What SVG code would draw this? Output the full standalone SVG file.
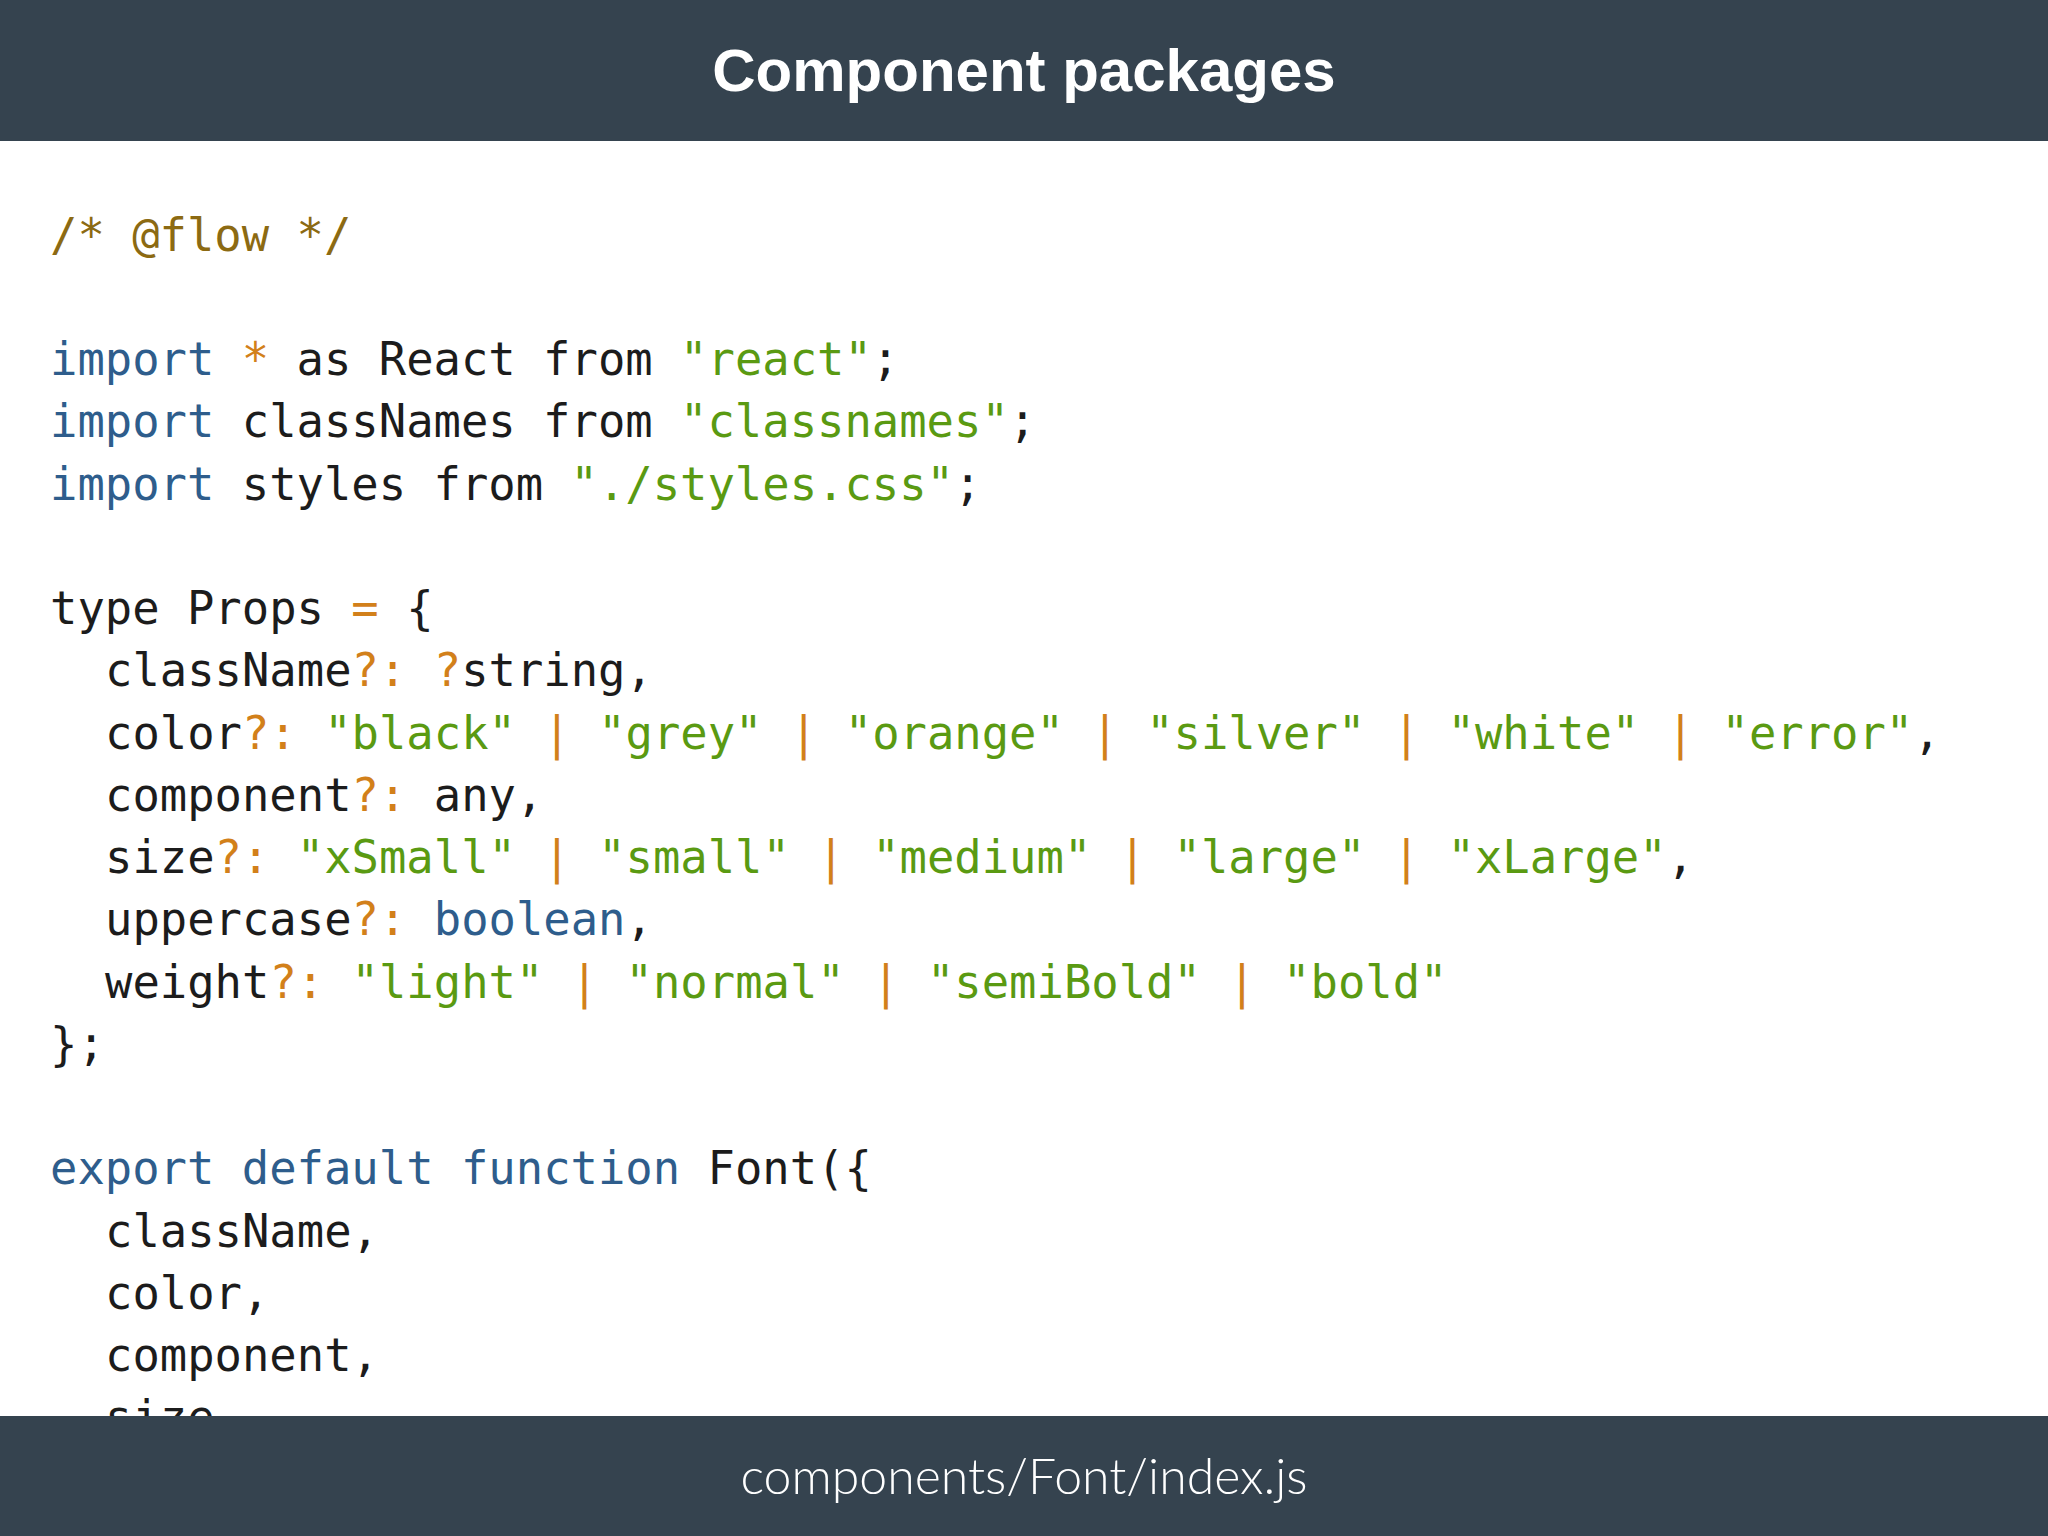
<svg xmlns="http://www.w3.org/2000/svg" width="2048" height="1536" viewBox="0 0 2048 1536">
<style>
.code{font-family:"DejaVu Sans Mono","Liberation Mono",monospace;font-size:45.5px;fill:#1c1c1c;white-space:pre}
.k{fill:#2e5d8c}.s{fill:#5a9a12}.o{fill:#d2801a}.c{fill:#8c6a12}
.bar{fill:#35434f}
</style>
<rect width="2048" height="1536" fill="#ffffff"/>
<g id="code" class="code" xml:space="preserve">
<text x="50" y="251"><tspan class="c">/* @flow */</tspan></text>
<text x="50" y="375"><tspan class="k">import</tspan> <tspan class="o">*</tspan> as React from <tspan class="s">"react"</tspan>;</text>
<text x="50" y="437"><tspan class="k">import</tspan> classNames from <tspan class="s">"classnames"</tspan>;</text>
<text x="50" y="500"><tspan class="k">import</tspan> styles from <tspan class="s">"./styles.css"</tspan>;</text>
<text x="50" y="624">type Props <tspan class="o">=</tspan> {</text>
<text x="105" y="686">className<tspan class="o">?:</tspan> <tspan class="o">?</tspan>string,</text>
<text x="105" y="749">color<tspan class="o">?:</tspan> <tspan class="s">"black"</tspan> <tspan class="o">|</tspan> <tspan class="s">"grey"</tspan> <tspan class="o">|</tspan> <tspan class="s">"orange"</tspan> <tspan class="o">|</tspan> <tspan class="s">"silver"</tspan> <tspan class="o">|</tspan> <tspan class="s">"white"</tspan> <tspan class="o">|</tspan> <tspan class="s">"error"</tspan>,</text>
<text x="105" y="811">component<tspan class="o">?:</tspan> any,</text>
<text x="105" y="873">size<tspan class="o">?:</tspan> <tspan class="s">"xSmall"</tspan> <tspan class="o">|</tspan> <tspan class="s">"small"</tspan> <tspan class="o">|</tspan> <tspan class="s">"medium"</tspan> <tspan class="o">|</tspan> <tspan class="s">"large"</tspan> <tspan class="o">|</tspan> <tspan class="s">"xLarge"</tspan>,</text>
<text x="105" y="935">uppercase<tspan class="o">?:</tspan> <tspan class="k">boolean</tspan>,</text>
<text x="105" y="998">weight<tspan class="o">?:</tspan> <tspan class="s">"light"</tspan> <tspan class="o">|</tspan> <tspan class="s">"normal"</tspan> <tspan class="o">|</tspan> <tspan class="s">"semiBold"</tspan> <tspan class="o">|</tspan> <tspan class="s">"bold"</tspan></text>
<text x="50" y="1060">};</text>
<text x="50" y="1184"><tspan class="k">export</tspan> <tspan class="k">default</tspan> <tspan class="k">function</tspan> Font({</text>
<text x="105" y="1247">className,</text>
<text x="105" y="1309">color,</text>
<text x="105" y="1371">component,</text>
<text x="105" y="1433">size,</text>
</g>
<g id="header">
<rect class="bar" x="0" y="0" width="2048" height="141"/>
<text x="1024" y="91" text-anchor="middle" font-family="Liberation Sans, Arial, sans-serif" font-weight="bold" font-size="60" fill="#ffffff">Component packages</text>
</g>
<g id="footer">
<rect class="bar" x="0" y="1416" width="2048" height="120"/>
<text x="1024" y="1494" text-anchor="middle" font-family="Lato, Roboto, sans-serif" font-weight="300" font-size="50" fill="#ffffff">components/Font/index.js</text>
</g>
</svg>
